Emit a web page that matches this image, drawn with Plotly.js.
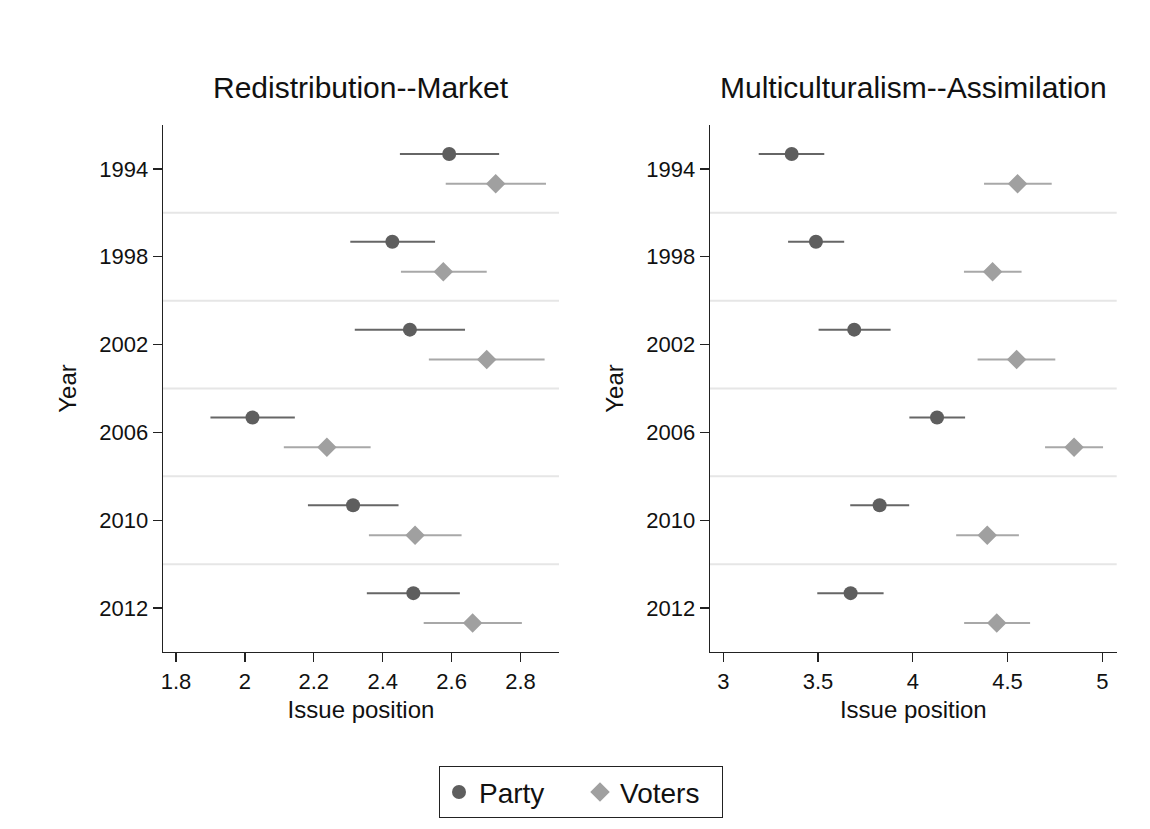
<!DOCTYPE html>
<html>
<head>
<meta charset="utf-8">
<script src="https://cdn.plot.ly/plotly-3.0.1.min.js"></script>
<style>html,body{margin:0;padding:0;background:#fff;}#chart{width:1150px;height:829px;}</style>
</head>
<body>
<div id="chart"></div>
<script>
// ---- data ----
const years = ['1994', '1998', '2002', '2006', '2010', '2012'];

const redistParty   = [2.593, 2.428, 2.479, 2.022, 2.314, 2.489];
const redistPartyLo = [2.450, 2.306, 2.319, 1.900, 2.183, 2.354];
const redistPartyHi = [2.738, 2.552, 2.639, 2.145, 2.446, 2.624];

const redistVoters   = [2.728, 2.576, 2.702, 2.238, 2.494, 2.661];
const redistVotersLo = [2.583, 2.453, 2.534, 2.113, 2.360, 2.519];
const redistVotersHi = [2.874, 2.702, 2.870, 2.365, 2.629, 2.804];

const multiParty   = [3.361, 3.489, 3.691, 4.128, 3.825, 3.672];
const multiPartyLo = [3.187, 3.342, 3.503, 3.982, 3.670, 3.496];
const multiPartyHi = [3.533, 3.638, 3.883, 4.276, 3.981, 3.846];

const multiVoters   = [4.553, 4.421, 4.548, 4.851, 4.393, 4.443];
const multiVotersLo = [4.376, 4.270, 4.342, 4.698, 4.229, 4.271];
const multiVotersHi = [4.733, 4.574, 4.752, 5.004, 4.560, 4.619];

const panelTitles = ['Redistribution--Market', 'Multiculturalism--Assimilation'];
const seriesNames = ['Party', 'Voters'];

// ---- styling ----
const FONT = 'Liberation Sans, Arial, Helvetica, sans-serif';
const partyColor = '#5e5e5e';
const partyLine = '#666666';
const votersColor = '#a0a0a0';
const votersLine = '#a8a8a8';
const OFFSET = 0.17;

const pos = years.map((_, i) => i + 1);
const yParty = pos.map(p => p - OFFSET);
const yVoters = pos.map(p => p + OFFSET);

function trace(vals, lo, hi, yv, name, color, lineColor, symbol, size, xa, ya, showlegend) {
  return {
    type: 'scatter', mode: 'markers',
    x: vals, y: yv, name: name, legendgroup: name, showlegend: showlegend,
    xaxis: xa, yaxis: ya,
    marker: {color: color, symbol: symbol, size: size},
    error_x: {
      type: 'data', symmetric: false,
      array: vals.map((v, i) => hi[i] - v),
      arrayminus: vals.map((v, i) => v - lo[i]),
      color: lineColor, thickness: 2, width: 0
    },
    hoverinfo: 'x+y'
  };
}

const data = [
  trace(redistParty, redistPartyLo, redistPartyHi, yParty, seriesNames[0], partyColor, partyLine, 'circle', 14, 'x', 'y', true),
  trace(redistVoters, redistVotersLo, redistVotersHi, yVoters, seriesNames[1], votersColor, votersLine, 'diamond', 15, 'x', 'y', true),
  trace(multiParty, multiPartyLo, multiPartyHi, yParty, seriesNames[0], partyColor, partyLine, 'circle', 14, 'x2', 'y2', false),
  trace(multiVoters, multiVotersLo, multiVotersHi, yVoters, seriesNames[1], votersColor, votersLine, 'diamond', 15, 'x2', 'y2', false)
];

const W = 1150, H = 829;
const yDom = [1 - 652 / H, 1 - 125 / H];

function xAxis(dom, range, dtick, anchor) {
  return {
    domain: dom, range: range, dtick: dtick, tick0: 0, anchor: anchor,
    showgrid: false, zeroline: false,
    showline: true, linecolor: '#222', linewidth: 1.3, mirror: false,
    ticks: 'outside', ticklen: 9, tickwidth: 1.3, tickcolor: '#222',
    tickfont: {family: FONT, size: 22, color: '#111'},
    title: {text: 'Issue position', font: {family: FONT, size: 24, color: '#111'}, standoff: 8}
  };
}
function yAxis(anchor) {
  return {
    domain: yDom, range: [6.5, 0.5], anchor: anchor,
    tickvals: pos, ticktext: years,
    showgrid: false, zeroline: false,
    showline: true, linecolor: '#222', linewidth: 1.3,
    ticks: 'outside', ticklen: 9, tickwidth: 1.3, tickcolor: '#222',
    tickfont: {family: FONT, size: 22, color: '#111'},
    title: {text: 'Year', font: {family: FONT, size: 24, color: '#111'}, standoff: 16}
  };
}

const sepVals = pos.slice(0, -1).map(p => p + 0.5);
const shapes = [];
['x', 'x2'].forEach((xa, k) => {
  const ya = k === 0 ? 'y' : 'y2';
  sepVals.forEach(v => shapes.push({
    type: 'line', xref: xa + ' domain', yref: ya, x0: 0, x1: 1, y0: v, y1: v,
    line: {color: '#e6e6e6', width: 2}, layer: 'below'
  }));
});

const annotations = panelTitles.map((t, k) => ({
  text: t, xref: k === 0 ? 'x domain' : 'x2 domain', yref: 'paper',
  x: 0.5, y: 1 - 87 / H, xanchor: 'center', yanchor: 'middle', showarrow: false,
  font: {family: FONT, size: 30, color: '#111'}
}));

const layout = {
  width: W, height: H,
  margin: {l: 0, r: 0, t: 0, b: 0},
  paper_bgcolor: '#fff', plot_bgcolor: '#fff',
  font: {family: FONT, color: '#111'},
  xaxis: xAxis([163 / W, 559 / W], [1.7623, 2.9118], 0.2, 'y'),
  yaxis: yAxis('x'),
  xaxis2: xAxis([710 / W, 1116.7 / W], [2.930, 5.076], 0.5, 'y2'),
  yaxis2: yAxis('x2'),
  shapes: shapes,
  annotations: annotations,
  showlegend: true,
  legend: {
    orientation: 'h', x: 581 / W, xanchor: 'center', y: 1 - 792 / H, yanchor: 'middle',
    bordercolor: '#222', borderwidth: 1.3, bgcolor: '#fff',
    font: {family: FONT, size: 28, color: '#111'},
    entrywidth: 96, entrywidthmode: 'pixels',
    itemclick: false, itemdoubleclick: false
  }
};

Plotly.newPlot('chart', data, layout, {staticPlot: true, displayModeBar: false});
</script>
</body>
</html>
